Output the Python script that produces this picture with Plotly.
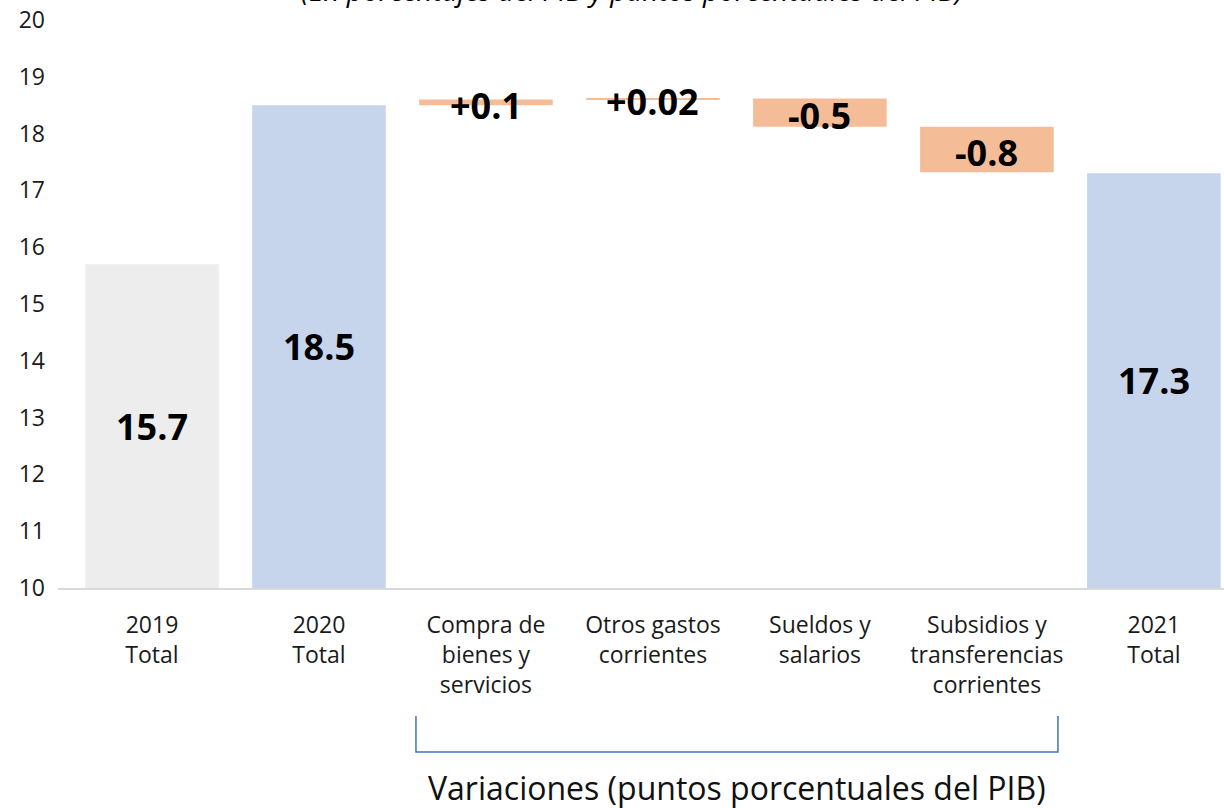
import plotly.graph_objects as go

categories = ["2019<br>Total", "2020<br>Total", "Compra de<br>bienes y<br>servicios",
              "Otros gastos<br>corrientes", "Sueldos y<br>salarios",
              "Subsidios y<br>transferencias<br>corrientes", "2021<br>Total"]
totals_2019 = 15.7
totals_2020 = 18.5
totals_2021 = 17.3
deltas = [0.1, 0.02, -0.5, -0.8]
delta_labels = ["+0.1", "+0.02", "-0.5", "-0.8"]
y_ticks = list(range(10, 21))

GREY = "#EDEDED"
BLUE = "#C6D4EC"
ORANGE = "#F5BD97"
FONT = "Open Sans"

# build bar geometry from data
bases = [0, 0]
heights = [totals_2019, totals_2020]
colors = [GREY, BLUE]
running = totals_2020
for d in deltas:
    if d >= 0:
        bases.append(running)
        heights.append(d)
    else:
        bases.append(running + d)
        heights.append(-d)
    colors.append(ORANGE)
    running += d
bases.append(0)
heights.append(totals_2021)
colors.append(BLUE)

fig = go.Figure()
fig.add_trace(go.Bar(
    x=list(range(len(categories))), y=heights, base=bases,
    marker=dict(color=colors, line=dict(width=0)),
    width=0.8, hoverinfo="skip", showlegend=False,
))

ymin = 10
annotations = []
for i, v in [(0, totals_2019), (1, totals_2020), (6, totals_2021)]:
    annotations.append(dict(x=i, y=(ymin + v) / 2, text=f"<b>{v:.1f}</b>",
                            showarrow=False, xref="x", yref="y",
                            font=dict(family=FONT, size=36, color="#000"),
                            yanchor="middle"))
for k, lab in enumerate(delta_labels):
    i = k + 2
    annotations.append(dict(x=i, y=bases[i] + heights[i] / 2, text=f"<b>{lab}</b>",
                            showarrow=False, xref="x", yref="y",
                            font=dict(family=FONT, size=36, color="#000"),
                            yanchor="middle", yshift=-3))

annotations.append(dict(x=0.492, y=1.0535, xref="paper", yref="paper",
                        text="<i>(En porcentajes del PIB y puntos porcentuales del PIB)</i>",
                        showarrow=False, yanchor="middle",
                        font=dict(family=FONT, size=28, color="#000")))
annotations.append(dict(x=0.582, y=-0.352, xref="paper", yref="paper",
                        text="Variaciones (puntos porcentuales del PIB)",
                        showarrow=False, yanchor="middle",
                        font=dict(family=FONT, size=32, color="#111")))

fig.update_layout(
    width=1224, height=808,
    margin=dict(l=58, r=0, t=20, b=220),
    paper_bgcolor="white", plot_bgcolor="white",
    annotations=annotations,
    shapes=[dict(type="path", xref="paper", yref="paper",
                 path="M 0.307,-0.2254 L 0.307,-0.2887 L 0.8576,-0.2887 L 0.8576,-0.2254",
                 line=dict(color="#4472C4", width=1.5))],
    font=dict(family=FONT, color="#1a1a1a"),
)
fig.update_xaxes(
    tickmode="array", tickvals=list(range(len(categories))), ticktext=categories,
    range=[-0.563, 6.42], showline=True, linecolor="#D9D9D9", linewidth=1.5,
    showgrid=False, zeroline=False, ticks="", tickfont=dict(family=FONT, size=23),
    ticklabelstandoff=16,
)
fig.update_yaxes(
    range=[10, 20], tickvals=y_ticks, showgrid=False, zeroline=False, showline=False,
    ticks="", tickfont=dict(family=FONT, size=23), ticklabelstandoff=12,
)
fig.write_html("out.html", config={"displayModeBar": False},
               post_script="document.body.style.margin='0';document.body.style.overflow='hidden';")
